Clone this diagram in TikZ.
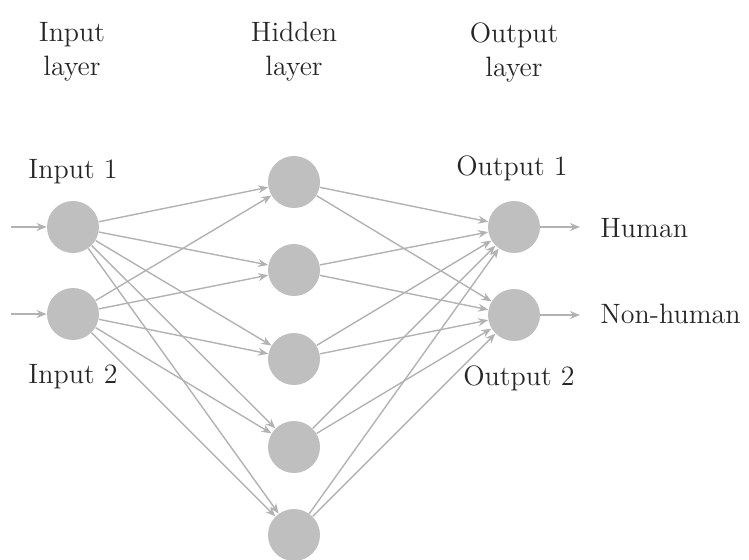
\documentclass[tikz,border=0pt]{standalone}
\usepackage{amsmath,amsthm,amssymb}
\usetikzlibrary{arrows.meta}

\begin{document}
\begin{tikzpicture}[x=0.5pt,y=0.5pt,yscale=-1,xscale=1,
    neuron/.style={circle,fill=black!25,draw=none,minimum size=26pt,inner sep=0pt},
    conn/.style={draw=black!30,line width=0.7pt,-{Stealth[length=5pt,width=4pt]}},
    lbl/.style={text=black!85,font=\fontsize{14}{17}\selectfont,align=center,inner sep=0pt}]
%set diagram to 749 x 559
\useasboundingbox (0,0) rectangle (749,559);

%Shape: Circle [input layer]
\node [neuron] (in1) at (73,227) {};
\node [neuron] (in2) at (73,314) {};
%Shape: Circle [hidden layer]
\node [neuron] (h1) at (294,182) {};
\node [neuron] (h2) at (294,270) {};
\node [neuron] (h3) at (294,359) {};
\node [neuron] (h4) at (294,447) {};
\node [neuron] (h5) at (294,535) {};
%Shape: Circle [output layer]
\node [neuron] (out1) at (514,227) {};
\node [neuron] (out2) at (514,315) {};

%free ends of the in/out arrows
\coordinate (src1) at (11,227);
\coordinate (src2) at (11,314);
\coordinate (dst1) at (580,227);
\coordinate (dst2) at (580,315);

%Straight Lines [into input layer]
\draw [conn] (src1) -- (in1);
\draw [conn] (src2) -- (in2);

%Straight Lines [input -> hidden]
\draw [conn] (in1) -- (h1);
\draw [conn] (in1) -- (h2);
\draw [conn] (in1) -- (h3);
\draw [conn] (in1) -- (h4);
\draw [conn] (in1) -- (h5);
\draw [conn] (in2) -- (h1);
\draw [conn] (in2) -- (h2);
\draw [conn] (in2) -- (h3);
\draw [conn] (in2) -- (h4);
\draw [conn] (in2) -- (h5);

%Straight Lines [hidden -> output]
\draw [conn] (h1) -- (out1);
\draw [conn] (h1) -- (out2);
\draw [conn] (h2) -- (out1);
\draw [conn] (h2) -- (out2);
\draw [conn] (h3) -- (out1);
\draw [conn] (h3) -- (out2);
\draw [conn] (h4) -- (out1);
\draw [conn] (h4) -- (out2);
\draw [conn] (h5) -- (out1);
\draw [conn] (h5) -- (out2);

%Straight Lines [out of output layer]
\draw [conn] (out1) -- (dst1);
\draw [conn] (out2) -- (dst2);

% Text Node
\node [lbl] (tin) at (72,52) {Input\\layer};
\node [lbl] (thid) at (294,52) {Hidden\\layer};
\node [lbl] (tout) at (514,52) {Output\\layer};
% Text Node
\node [lbl] (lin1) at (73,172) {Input 1};
\node [lbl] (lin2) at (73,377) {Input 2};
\node [lbl] (lout1) at (512,168) {Output 1};
\node [lbl] (lout2) at (519,378) {Output 2};
\node [lbl,anchor=west] (lhum) at (600,228) {Human};
\node [lbl,anchor=west] (lnon) at (600,314) {Non-human};

\end{tikzpicture}
\end{document}
